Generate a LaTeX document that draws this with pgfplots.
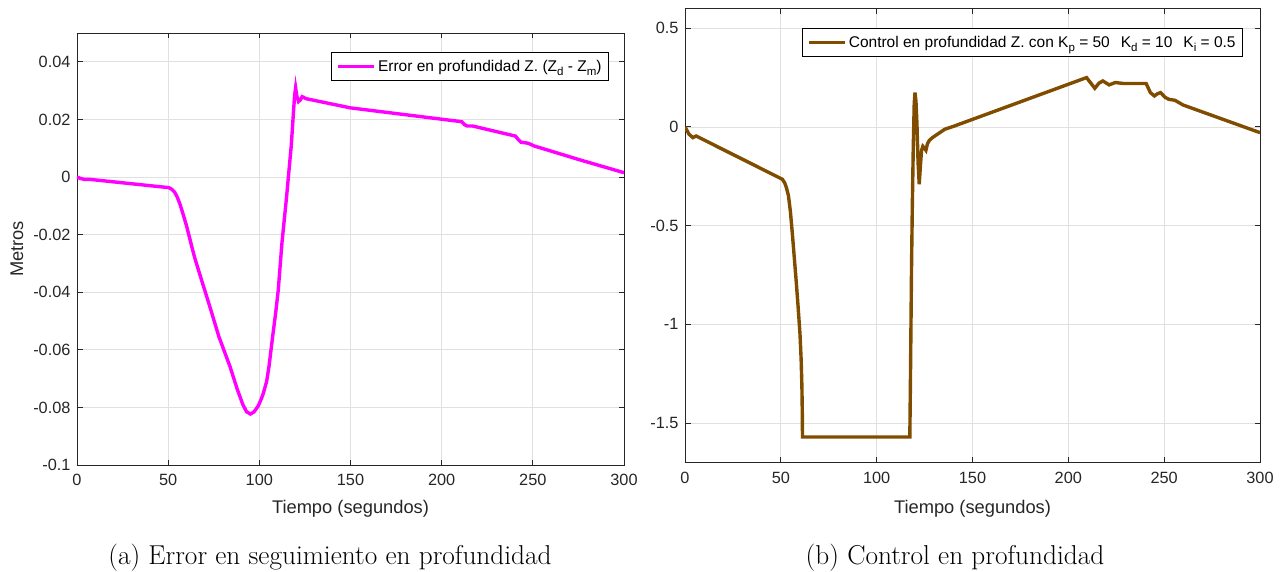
\documentclass[border=0pt]{standalone}
\usepackage{pgfplots}
\pgfplotsset{compat=1.18}
\usepackage{fontspec}
\newfontfamily\arial{Liberation Sans}

\definecolor{axgray}{rgb}{0.15,0.15,0.15}
\definecolor{gridgray}{RGB}{224,224,224}
\definecolor{errmag}{RGB}{255,0,255}
\definecolor{ctrlbrown}{RGB}{128,77,0}

% lowered subscript in the legend font
\newcommand{\sub}[1]{\raisebox{-4.5pt}{\fontsize{11.5}{12}\selectfont #1}}
\newcommand{\gap}{\hspace{11pt}}

\pgfplotsset{
  matlabaxis/.style={
    scale only axis,
    axis line style={axgray, line width=0.9pt},
    grid=major,
    major grid style={gridgray, line width=0.8pt},
    tick style={axgray, line width=0.9pt},
    major tick length=5.5pt,
    tick align=inside,
    xmin=0, xmax=300,
    xtick={0,50,...,300},
    xticklabels={0,50,100,150,200,250,300},
    ticklabel style={font=\arial\fontsize{16.3}{19}\selectfont, text=axgray},
    xticklabel style={yshift=-6pt},
    yticklabel style={xshift=-3pt},
    label style={font=\arial\fontsize{18.3}{21}\selectfont, text=axgray},
    legend cell align=left,
    legend image code/.code={\draw[#1] (0pt,0pt) -- (36pt,0pt);},
    legend style={font=\arial\fontsize{15.5}{18}\selectfont, text=black,
      draw=black, line width=0.8pt, fill=white,
      inner xsep=5pt, inner ysep=5.5pt,
      at={(1,1)}, anchor=north east},
  }
}

\begin{document}
\begin{tikzpicture}
\useasboundingbox (0pt,0pt) rectangle (1285pt,571pt);

% (a) depth tracking error
\begin{axis}[matlabaxis,
  at={(77pt,106pt)}, anchor=south west,
  width=547pt, height=432pt,
  ymin=-0.1, ymax=0.05,
  ytick={-0.1,-0.08,-0.06,-0.04,-0.02,0,0.02,0.04},
  yticklabels={-0.1,-0.08,-0.06,-0.04,-0.02,0,0.02,0.04},
  xlabel={Tiempo (segundos)},
  xlabel style={at={(axis description cs:0.5,0)}, anchor=base, yshift=-48pt},
  ylabel={Metros},
  ylabel style={at={(axis description cs:-0.11,0.5)}, anchor=center},
  legend style={xshift=-15pt, yshift=-19pt},
]
\addplot[errmag, line width=3.4pt] coordinates {
  (0,0) (1.5,-0.0004) (3.7,-0.0008) (6.7,-0.0008) (50.4,-0.0037)
  (52,-0.0043) (53.5,-0.0052) (55,-0.007) (56.5,-0.0095) (58,-0.0125)
  (60,-0.0168) (61.5,-0.0205) (63,-0.0243) (64.5,-0.0279) (66.7,-0.0325)
  (72.8,-0.0449) (77.8,-0.0554) (83.9,-0.0658)
  (88,-0.0739) (91,-0.0791) (93,-0.0815) (95.1,-0.0823) (97,-0.0816)
  (99.2,-0.0797) (101,-0.0772) (102.2,-0.0751) (104,-0.071) (105.3,-0.0658)
  (107.3,-0.0554) (109,-0.047) (110.4,-0.0391) (112.4,-0.0229)
  (114.8,-0.0078) (117.5,0.0108) (119.3,0.028) (119.9,0.031) (120.6,0.028)
  (121.5,0.0262) (122.5,0.0268) (123.5,0.0279) (124.5,0.0276) (125.6,0.0272)
  (150,0.024) (211,0.0192) (212.5,0.0182) (214,0.0177) (217,0.0177)
  (240.5,0.0142) (242,0.013) (243.5,0.0121) (247.6,0.0117) (250.6,0.0108)
  (275,0.0061) (300,0.0015)
};
\addlegendentry{Error en profundidad Z. (Z\sub{d} - Z\sub{m})}
\end{axis}

% (b) depth control effort
\begin{axis}[matlabaxis,
  at={(685pt,108.5pt)}, anchor=south west,
  width=575pt, height=454pt,
  ymin=-1.7, ymax=0.6,
  ytick={-1.5,-1,-0.5,0,0.5},
  yticklabels={-1.5,-1,-0.5,0,0.5},
  xlabel={Tiempo (segundos)},
  xlabel style={at={(axis description cs:0.5,0)}, anchor=base, yshift=-50.5pt},
  legend style={xshift=-17pt, yshift=-19.5pt},
]
\addplot[ctrlbrown, line width=3.4pt] coordinates {
  (0,0) (2.1,-0.037) (4.1,-0.054) (5.8,-0.046) (50.8,-0.265)
  (52,-0.283) (53,-0.31) (54,-0.35) (55,-0.43) (56,-0.54) (57,-0.66)
  (58,-0.78) (59,-0.91) (60,-1.05) (60.6,-1.18) (61,-1.32) (61.2,-1.45)
  (61.3,-1.5708) (117.3,-1.5708) (117.6,-1.3) (117.9,-1.0)
  (118.2,-0.7) (118.6,-0.4) (119.1,-0.1) (119.6,0.12) (120,0.174)
  (120.5,0.13) (121,0.02) (121.6,-0.18) (122.2,-0.29) (122.8,-0.2)
  (123.4,-0.12) (124.1,-0.098) (124.8,-0.105) (125.7,-0.118) (126.5,-0.085)
  (127.5,-0.068) (129.1,-0.054) (132,-0.035) (135.5,-0.012) (139.8,0.002)
  (209.5,0.25) (211.5,0.225) (213.8,0.196) (216,0.222) (218,0.233)
  (221.3,0.213) (224.5,0.225) (228.8,0.22) (240.6,0.22) (242.8,0.174)
  (244.9,0.157) (246.5,0.168) (248.1,0.174) (250.5,0.15) (252.4,0.14)
  (255.6,0.135) (259.9,0.111) (300,-0.029)
};
\addlegendentry{Control en profundidad Z. con K\sub{p} = 50\gap K\sub{d} = 10\gap K\sub{i} = 0.5}
\end{axis}

% sub-figure captions
\node[font=\fontsize{27.3}{32}\selectfont, anchor=base] at (330pt,7pt)
  {(a) Error en seguimiento en profundidad};
\node[font=\fontsize{27.3}{32}\selectfont, anchor=base] at (955pt,7pt)
  {(b) Control en profundidad};
\end{tikzpicture}
\end{document}
